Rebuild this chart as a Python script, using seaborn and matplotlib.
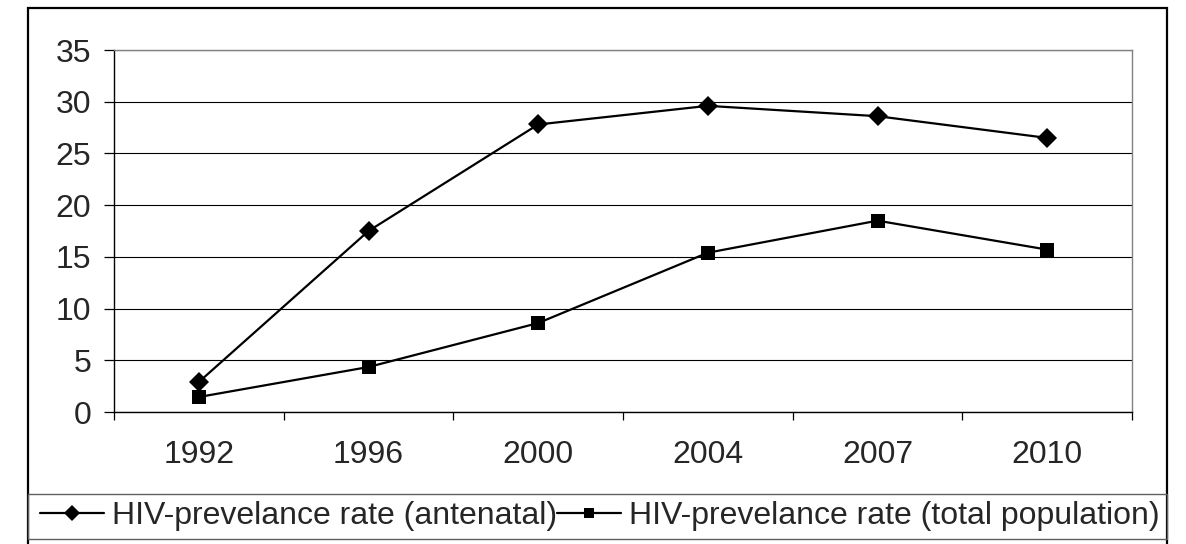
import matplotlib
matplotlib.use("Agg")
import matplotlib.pyplot as plt
from matplotlib.lines import Line2D
from matplotlib.patches import Rectangle
import numpy as np
import pandas as pd
import seaborn as sns

# Survey years and HIV prevalence (%)
years = ["1992", "1996", "2000", "2004", "2007", "2010"]
antenatal = [2.9, 17.5, 27.8, 29.6, 28.6, 26.5]
total_population = [1.45, 4.35, 8.6, 15.4, 18.5, 15.7]
series_names = ["HIV-prevelance rate (antenatal)",
                "HIV-prevelance rate (total population)"]
y_ticks = [0, 5, 10, 15, 20, 25, 30, 35]

sns.set_theme(style="white")
plt.rcParams["font.family"] = ["Liberation Sans", "DejaVu Sans"]

FS = 23
W, H = 1186, 544
fig = plt.figure(figsize=(W / 100, H / 100), dpi=100)
ax = fig.add_axes([114 / W, 1 - 412 / H, (1132 - 114) / W, (412 - 50) / H])

pos = np.arange(len(years))
df = pd.DataFrame({
    "pos": np.concatenate([pos, pos]),
    "value": antenatal + total_population,
    "series": [series_names[0]] * len(years) + [series_names[1]] * len(years),
})

sns.lineplot(data=df, x="pos", y="value", style="series", hue="series",
             palette=["black", "black"], markers=["D", "s"], dashes=False,
             markersize=10.5, linewidth=1.6, markeredgewidth=0, ax=ax,
             legend=False)

ax.set_xlim(-0.5, len(years) - 0.5)
ax.set_ylim(0, 35)
ax.set_yticks(y_ticks)
ax.set_yticklabels([str(v) for v in y_ticks], fontsize=FS)
ax.set_xticks(pos)
ax.set_xticklabels(years, fontsize=FS)
ax.set_xticks(np.arange(-0.5, len(years)), minor=True)
ax.tick_params(axis="x", which="major", length=0, pad=20)
ax.tick_params(axis="x", which="minor", direction="out", length=6,
               width=0.9, color="black", bottom=True)
ax.tick_params(axis="y", direction="out", length=7.5, width=0.9,
               color="black", left=True, pad=9)
ax.set_xlabel("")
ax.set_ylabel("")

ax.yaxis.grid(True, color="black", linewidth=0.8)
ax.set_axisbelow(True)
for side in ["left", "bottom"]:
    ax.spines[side].set_color("black")
    ax.spines[side].set_linewidth(1.0)
for side in ["top", "right"]:
    ax.spines[side].set_color("#808080")
    ax.spines[side].set_linewidth(1.0)

# Outer chart frame and legend box, in pixel coordinates
def fx(x):
    return x / W

def fy(y):
    return 1 - y / H

fig.patches.append(Rectangle((fx(28), fy(560)), fx(1167) - fx(28),
                             fy(8) - fy(560), transform=fig.transFigure,
                             fill=False, edgecolor="black", linewidth=1.6,
                             clip_on=False))
fig.patches.append(Rectangle((fx(28), fy(539)), fx(1167) - fx(28),
                             fy(494) - fy(539), transform=fig.transFigure,
                             fill=False, edgecolor="#606060", linewidth=1.0))

handles = [
    Line2D([], [], color="black", linewidth=1.6, marker="D", markersize=8,
           markeredgewidth=0),
    Line2D([], [], color="black", linewidth=1.6, marker="s", markersize=7.5,
           markeredgewidth=0),
]
fig.legend(handles, series_names, loc="center left",
           bbox_to_anchor=(fx(40), fy(516)), ncol=2, frameon=False,
           fontsize=FS, handlelength=2.0, handletextpad=0.25,
           columnspacing=0.0, borderpad=0, borderaxespad=0)

fig.savefig("out.png", dpi=100, facecolor="white")
